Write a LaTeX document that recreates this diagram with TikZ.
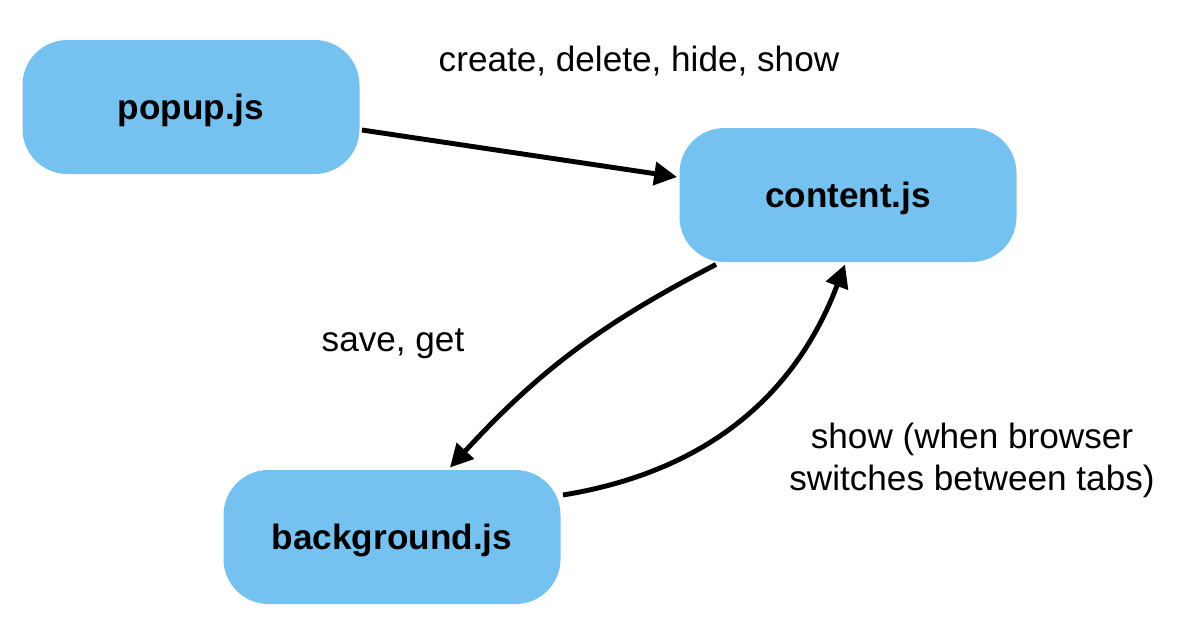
\documentclass[tikz,border=0pt]{standalone}
\usepackage{fontspec}
\setmainfont{Liberation Sans}
\usetikzlibrary{arrows.meta}
\definecolor{jsblue}{HTML}{75C2F0}

\begin{document}
\begin{tikzpicture}[-{Triangle[length=13pt,width=13pt]},line width=2.8pt,font=\fontsize{20}{24}\selectfont,
    file node/.style={rectangle,rounded corners=0.9cm,fill=jsblue,minimum width=6.74cm,minimum height=2.68cm,text depth=0pt,font=\fontsize{20}{24}\selectfont\bfseries}]
        \useasboundingbox (0,0) rectangle (23.8,-12.64);
        \node [file node] (popup) at (3.82,-2.14) {popup.js};
        \node [file node] (content) at (16.96,-3.9) {content.js};
        \node [file node] (background) at (7.84,-10.74) {background.js};
        \node (cmds) at (12.78,-1.22) {create, delete, hide, show};
        \node (store) at (7.86,-6.88) {save, get};
        \node [align=center] (tabs) at (19.44,-9.2) {show (when browser\\switches between tabs)};
        \path
        ([yshift=-0.46cm]popup.east) edge ([yshift=0.36cm]content.west)
        ([xshift=-2.64cm]content.south) edge [bend right=10] ([xshift=1.16cm]background.north)
        ([yshift=0.84cm]background.east) edge [bend right=30] ([xshift=-0.06cm]content.south);
    \end{tikzpicture}
\end{document}
